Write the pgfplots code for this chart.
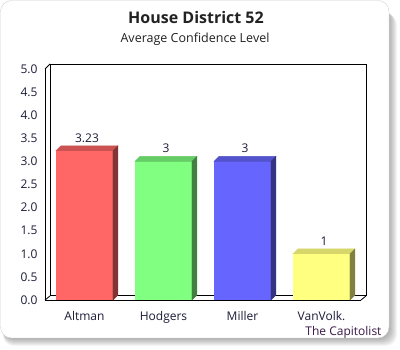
\documentclass[border=0pt]{standalone}
\usepackage{fontspec}
\setmainfont{Open Sans}
\usepackage{pgfplots}
\pgfplotsset{compat=1.18}
\pgfdeclareplotmark{empty}{}
\definecolor{txt}{HTML}{1C1C38}
\definecolor{ttl}{HTML}{222222}
\definecolor{brand}{HTML}{3A1848}
\definecolor{rF}{HTML}{FF6666}\definecolor{rT}{HTML}{CC5252}\definecolor{rS}{HTML}{803434}
\definecolor{gF}{HTML}{80FF80}\definecolor{gT}{HTML}{66CC66}\definecolor{gS}{HTML}{408040}
\definecolor{bF}{HTML}{6666FF}\definecolor{bT}{HTML}{5252CC}\definecolor{bS}{HTML}{343480}
\definecolor{yF}{HTML}{FFFF80}\definecolor{yT}{HTML}{D6D66B}\definecolor{yS}{HTML}{808040}
\pgfplotsset{
  bar3d/.style 2 args={only marks, mark=empty, scatter,
    visualization depends on={rawy\as\ry},
    scatter/@pre marker code/.code={%
      \pgfmathsetmacro\H{\ry*46.2}%
      \pgfmathsetmacro\Hb{5-\ry*46.2}%
      \fill[#1] (-28.5pt,0pt) -- (-23.5pt,5pt) -- (33.5pt,5pt) -- (28.5pt,0pt) -- cycle;
      \fill[#2] (28.5pt,0pt) -- (33.5pt,5pt) -- (33.5pt,\Hb pt) -- (28.5pt,-\H pt) -- cycle;
    },
    scatter/@post marker code/.code={}},
  frontbar/.style={ybar, bar width=57pt, bar shift=0pt, fill=#1, draw=none,
    nodes near coords,
    every node near coord/.append style={text=txt, font=\fontsize{12}{14}\selectfont, xshift=2.5pt, yshift=5pt}}
}
\begin{document}
\begin{tikzpicture}[x=1pt,y=1pt]
\path[use as bounding box] (0,0) rectangle (400,350);
\foreach \i in {1,...,8}{
  \fill[black,opacity=0.045,rounded corners=11pt] (3,12-\i) rectangle (389+\i,344-\i);
}
\filldraw[fill=white,draw=black!18,rounded corners=11pt] (0.5,12) rectangle (389,349.5);
\node[text=ttl,font=\fontsize{16}{19}\bfseries\selectfont] at (196,332) {House District 52};
\node[text=ttl,font=\fontsize{12.5}{15}\selectfont] at (195,311) {Average Confidence Level};
\node[text=brand,font=\fontsize{12}{14}\selectfont,anchor=east] at (385,18) {The Capitolist};
\begin{axis}[
  at={(45pt,50pt)}, anchor=south west,
  scale only axis, width=316pt, height=231pt,
  xmin=-0.5, xmax=3.5, ymin=0, ymax=5,
  axis x line=bottom, axis y line=left,
  axis line style={-, black, line width=0.8pt},
  clip=false,
  xtick={0,1,2,3}, xticklabels={Altman,Hodgers,Miller,VanVolk.},
  ytick={0,0.5,...,5},
  major tick length=0pt,
  yticklabel style={/pgf/number format/fixed,/pgf/number format/fixed zerofill,/pgf/number format/precision=1, text=txt, font=\fontsize{12}{14}\selectfont, xshift=-4pt},
  xticklabel style={text=txt, font=\fontsize{12}{14}\selectfont, yshift=-8pt},
  /pgf/number format/assume math mode=true,
]
\draw[black, line width=0.8pt] ([shift={(5pt,5pt)}]axis cs:-0.5,0) rectangle ([shift={(5pt,5pt)}]axis cs:3.5,5);
\draw[black, line width=0.8pt] (axis cs:-0.5,5) -- ([shift={(5pt,5pt)}]axis cs:-0.5,5);
\draw[black, line width=0.8pt] (axis cs:-0.5,0) -- ([shift={(5pt,4pt)}]axis cs:-0.5,0);
\draw[black, line width=0.8pt] (axis cs:3.5,0) -- ([shift={(5pt,4pt)}]axis cs:3.5,0);
\addplot[frontbar=rF] coordinates {(0,3.23)};
\addplot[bar3d={rT}{rS}] coordinates {(0,3.23)};
\addplot[frontbar=gF] coordinates {(1,3)};
\addplot[bar3d={gT}{gS}] coordinates {(1,3)};
\addplot[frontbar=bF] coordinates {(2,3)};
\addplot[bar3d={bT}{bS}] coordinates {(2,3)};
\addplot[frontbar=yF] coordinates {(3,1)};
\addplot[bar3d={yT}{yS}] coordinates {(3,1)};
\end{axis}
\end{tikzpicture}
\end{document}
